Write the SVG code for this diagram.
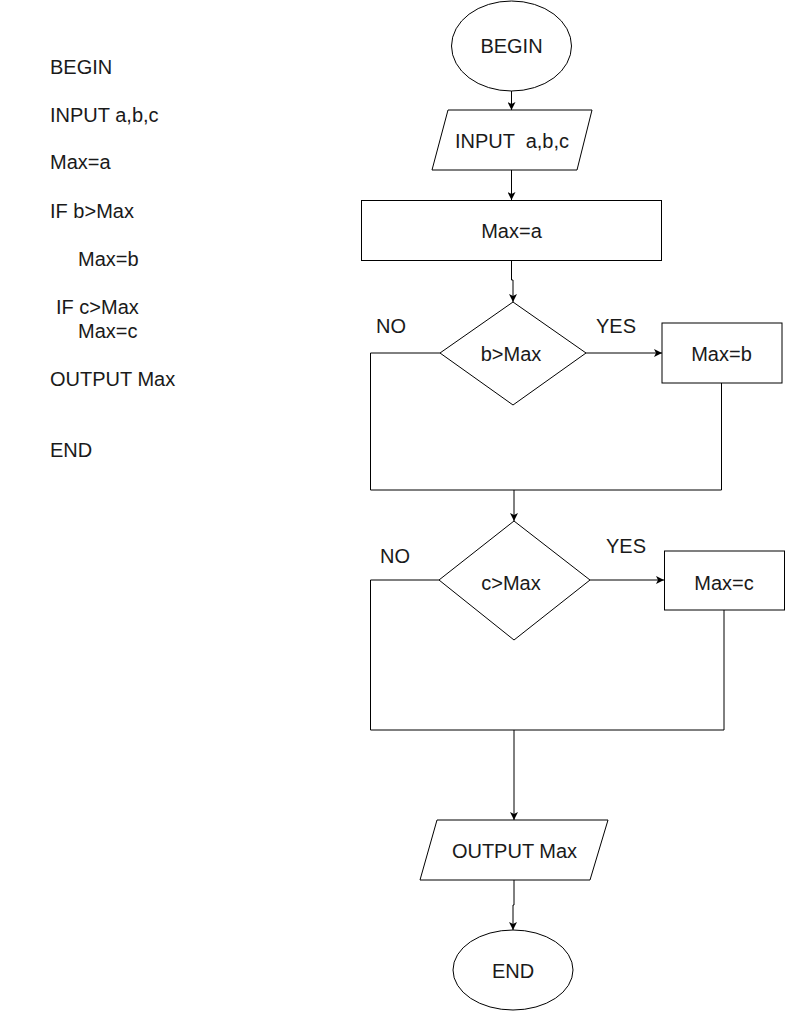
<svg xmlns="http://www.w3.org/2000/svg" width="785" height="1011" viewBox="0 0 785 1011">
  <style>
    .shape { fill: #ffffff; stroke: #000000; stroke-width: 1; }
    .edge { fill: none; stroke: #000000; stroke-width: 1; }
    text { font-family: "Liberation Sans", Arial, sans-serif; font-size: 20px; fill: #1a1a1a; }
    .c { text-anchor: middle; }
  </style>
  <defs>
    <marker id="arrow" viewBox="0 0 8 8" refX="8" refY="4" markerWidth="8" markerHeight="8" markerUnits="userSpaceOnUse" orient="auto">
      <path d="M0,0 L8,4 L0,8 L2,4 Z" fill="#000000"/>
    </marker>
  </defs>

  <rect x="0" y="0" width="785" height="1011" fill="#ffffff"/>

  <!-- pseudocode listing -->
  <g id="pseudocode">
    <text x="50" y="74">BEGIN</text>
    <text x="50" y="122">INPUT a,b,c</text>
    <text x="50" y="169">Max=a</text>
    <text x="50" y="218">IF b&gt;Max</text>
    <text x="78" y="266">Max=b</text>
    <text x="56" y="314">IF c&gt;Max</text>
    <text x="78" y="338">Max=c</text>
    <text x="50" y="386">OUTPUT Max</text>
    <text x="50" y="457">END</text>
  </g>

  <!-- connectors -->
  <g id="connectors">
    <path class="edge" d="M511.5,91 V110" marker-end="url(#arrow)"/>
    <path class="edge" d="M511.5,170 V200" marker-end="url(#arrow)"/>
    <path class="edge" d="M511.5,260 V280 H513 V302" marker-end="url(#arrow)"/>
    <path class="edge" d="M586,353 H662" marker-end="url(#arrow)"/>
    <path class="edge" d="M440,353 H370.5 V490 H721.5 V383"/>
    <path class="edge" d="M514,490 V521" marker-end="url(#arrow)"/>
    <path class="edge" d="M590,580 H664" marker-end="url(#arrow)"/>
    <path class="edge" d="M439,580 H370.5 V730 H724 V610"/>
    <path class="edge" d="M514,730 V820" marker-end="url(#arrow)"/>
    <path class="edge" d="M514,880 V905 H513 V930" marker-end="url(#arrow)"/>
  </g>

  <!-- branch labels -->
  <g id="labels">
    <text class="c" x="391" y="333">NO</text>
    <text class="c" x="616" y="333">YES</text>
    <text class="c" x="395" y="563">NO</text>
    <text class="c" x="626" y="553">YES</text>
  </g>

  <g id="begin">
    <ellipse class="shape" cx="511.5" cy="46" rx="60" ry="45"/>
    <text class="c" x="511.5" y="53">BEGIN</text>
  </g>

  <g id="input">
    <polygon class="shape" points="448,110 592,110 577,170 432,170"/>
    <text class="c" x="512" y="148" xml:space="preserve">INPUT  a,b,c</text>
  </g>

  <g id="max-a">
    <rect class="shape" x="361.5" y="200.5" width="300" height="60"/>
    <text class="c" x="511.5" y="238">Max=a</text>
  </g>

  <g id="cond-b">
    <polygon class="shape" points="513,302 586,353 513,405 440,353"/>
    <text class="c" x="511" y="361">b&gt;Max</text>
  </g>

  <g id="max-b">
    <rect class="shape" x="662" y="323" width="120" height="60"/>
    <text class="c" x="721.5" y="361">Max=b</text>
  </g>

  <g id="cond-c">
    <polygon class="shape" points="514,521 590,580 514,640 439,580"/>
    <text class="c" x="511" y="590">c&gt;Max</text>
  </g>

  <g id="max-c">
    <rect class="shape" x="664.5" y="551" width="120" height="59"/>
    <text class="c" x="724" y="590">Max=c</text>
  </g>

  <g id="output">
    <polygon class="shape" points="437,820 608,820 590,880 420,880"/>
    <text class="c" x="514.5" y="858">OUTPUT Max</text>
  </g>

  <g id="end">
    <ellipse class="shape" cx="513" cy="970" rx="60" ry="40"/>
    <text class="c" x="513" y="978">END</text>
  </g>
</svg>
